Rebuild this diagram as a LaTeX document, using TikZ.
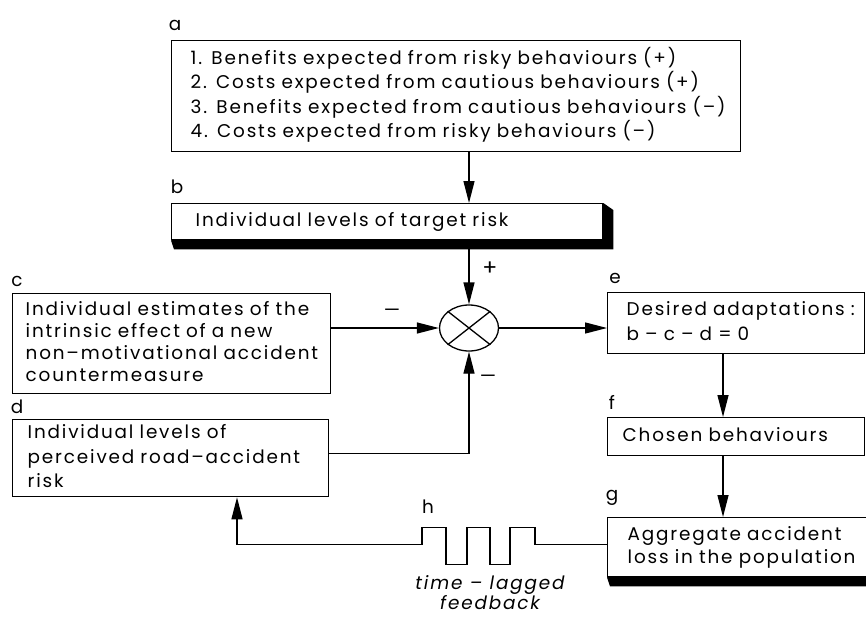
\documentclass[tikz,border=0pt]{standalone}
\usepackage{fontspec}
\setmainfont{Poppins}[LetterSpace=10]
\usetikzlibrary{arrows.meta,shapes.geometric,backgrounds}

\newcommand\rows[1]{\begin{tabular}{@{}l@{}}#1\end{tabular}}

\tikzset{
  box/.style={draw, fill=white, anchor=north west, align=left, inner ysep=0pt},
  tag/.style={inner sep=0pt},
  arr/.style={-{Triangle[length=22pt,width=11pt]}}
}

\begin{document}
\begin{tikzpicture}[x=1pt, y=-1pt, line width=1.3pt,
  font=\fontsize{18.4}{24.5}\selectfont]
  \useasboundingbox (0,0) rectangle (866,618);

  % boxes
  \node[box, inner xsep=19pt, text width=531pt, minimum height=111pt] (A) at (171,40)
    {\rows{1. Benefits expected from risky behaviours (+)\\
     2. Costs expected from cautious behaviours (+)\\
     3. Benefits expected from cautious behaviours (--)\\
     4. Costs expected from risky behaviours (--)}};
  \node[box, inner xsep=24pt, text width=383pt, minimum height=36pt] (B) at (171,203)
    {\rows{Individual levels of target risk}};
  \node[box, inner xsep=13pt, text width=292pt, minimum height=100pt,
    font=\fontsize{18.4}{22}\selectfont] (C) at (12,293)
    {\rows{Individual estimates of the\\ intrinsic effect of a new\\
     non--motivational accident\\ countermeasure}};
  \node[box, inner xsep=15pt, text width=286pt, minimum height=77pt] (D) at (12,419)
    {\rows{Individual levels of\\ perceived road--accident\\ risk}};
  \node[box, inner xsep=19pt, text width=219pt, minimum height=61pt] (E) at (607,292)
    {\rows{Desired adaptations :\\ b -- c -- d = 0}};
  \node[box, inner xsep=15pt, text width=227pt, minimum height=38pt] (F) at (607,417)
    {\rows{Chosen behaviours}};
  \node[box, inner xsep=20pt, text width=222pt, minimum height=59pt,
    font=\fontsize{18.4}{23}\selectfont] (G) at (607,517)
    {\rows{Aggregate accident\\ loss in the population}};

  % slabs under b and g
  \begin{scope}[on background layer]
    \fill (B.south west) -- ++(3,9) -| ([xshift=10pt,yshift=-7pt]B.north east) -- (B.north east) -- cycle;
    \fill (G.south west) -- ++(3,9) -| ([xshift=10pt,yshift=-7pt]G.north east) -- (G.north east) -- cycle;
  \end{scope}

  % letters
  \node[tag] (la) at (175,25) {a};
  \node[tag] (lb) at (177,187) {b};
  \node[tag] (lc) at (17,281) {c};
  \node[tag] (ld) at (17,407) {d};
  \node[tag] (le) at (615,278) {e};
  \node[tag] (lf) at (612,402) {f};
  \node[tag] (lg) at (612,498) {g};
  \node[tag] (lh) at (428,507) {h};

  % comparator
  \node[draw, ellipse, minimum width=59pt, minimum height=46pt, inner sep=0pt] (J) at (469,328) {};
  \draw (J.north west) -- (J.south east);
  \draw (J.north east) -- (J.south west);
  \node[tag, font=\fontsize{22}{22}\selectfont] (plus) at (490,269) {+};
  \node[tag] (minc) at (392,313) {---};
  \node[tag] (mind) at (488,379) {---};
  \coordinate (col) at (723,0);

  % connectors
  \draw[arr] (J |- A.south) -- (J |- B.north);
  \draw[arr] (J |- B.south) -- (J.north);
  \draw[arr] (C.east |- J) -- (J.west);
  \draw[arr] ([yshift=5pt]D.east) -| (J.south);
  \draw[arr] (J.east) -- (E.west |- J);
  \draw[arr] (col |- E.south) -- (col |- F.north);
  \draw[arr] (col |- F.south) -- (col |- G.north);
  \draw[arr] ([yshift=3pt]G.west) -- ++(-72,0) -- ++(0,-17) -- ++(-25,0) -- ++(0,37)
    -- ++(-20,0) -- ++(0,-37) -- ++(-23,0) -- ++(0,37) -- ++(-21,0) -- ++(0,-37)
    -- ++(-24,0) -- ++(0,17) -| ([xshift=225pt]D.south west);

  \node[tag, font=\fontsize{18.4}{19}\selectfont\itshape, align=center] (lag) at (490,593)
    {time -- lagged\\ feedback};
\end{tikzpicture}
\end{document}
